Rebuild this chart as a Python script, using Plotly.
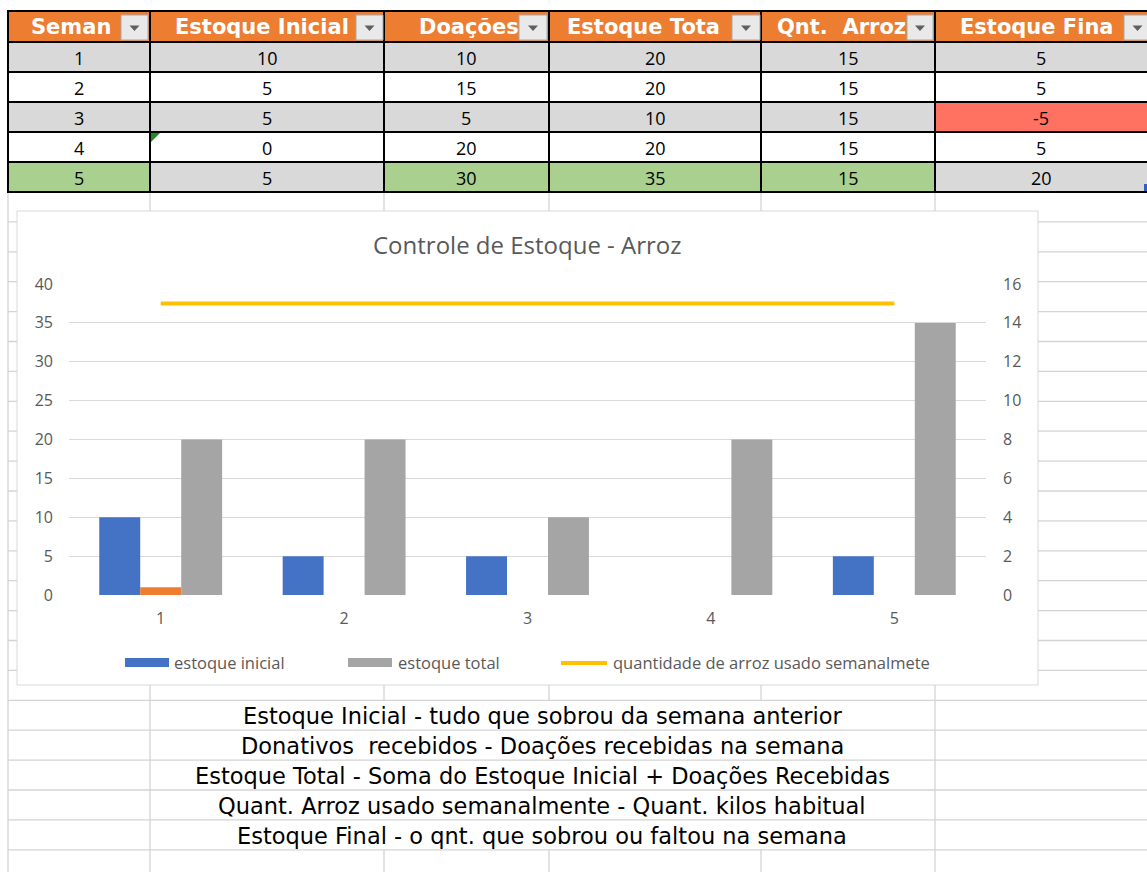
import plotly.graph_objects as go

W, H = 1147, 872

# ---------------- data ----------------
semanas = [1, 2, 3, 4, 5]
estoque_inicial = [10, 5, 5, 0, 5]
doacoes = [10, 15, 5, 20, 30]
estoque_total = [20, 20, 10, 20, 35]
qnt_arroz = [15, 15, 15, 15, 15]
estoque_final = [5, 5, -5, 5, 20]
serie_laranja = [1, None, None, None, None]

cabecalhos = ["Seman", "Estoque Inicial", "Doações", "Estoque Tota", "Qnt.\u00a0 Arroz", "Estoque Fina"]
legenda = ["estoque inicial", "estoque total", "quantidade de arroz usado semanalmete"]
titulo = "Controle de Estoque - Arroz"
notas = [
    "Estoque Inicial - tudo que sobrou da semana anterior",
    "Donativos\u00a0 recebidos - Doações recebidas na semana",
    "Estoque Total - Soma do Estoque Inicial + Doações Recebidas",
    "Quant. Arroz usado semanalmente - Quant. kilos habitual",
    "Estoque Final - o qnt. que sobrou ou faltou na semana",
]
ticks_esq = [0, 5, 10, 15, 20, 25, 30, 35, 40]
ticks_dir = [0, 2, 4, 6, 8, 10, 12, 14, 16]

# ---------------- helpers ----------------
def X(p):
    return p / W

def Y(p):
    return 1 - p / H

shapes = []
annots = []

def rect(x0, y0, x1, y1, fill, line=None, lw=0, layer="below"):
    d = dict(type="rect", xref="paper", yref="paper", x0=X(x0), x1=X(x1), y0=Y(y0), y1=Y(y1),
             fillcolor=fill, layer=layer, line=dict(width=lw, color=line or fill))
    shapes.append(d)

def hline(x0, x1, y, color, w, layer="below"):
    shapes.append(dict(type="line", xref="paper", yref="paper", x0=X(x0), x1=X(x1), y0=Y(y), y1=Y(y),
                       line=dict(color=color, width=w), layer=layer))

def vline(x, y0, y1, color, w, layer="below"):
    shapes.append(dict(type="line", xref="paper", yref="paper", x0=X(x), x1=X(x), y0=Y(y0), y1=Y(y1),
                       line=dict(color=color, width=w), layer=layer))

def text(x, y, s, size, color, family, anchor="center", bold=False):
    annots.append(dict(xref="paper", yref="paper", x=X(x), y=Y(y), text=("<b>%s</b>" % s) if bold else s,
                       showarrow=False, xanchor=anchor, yanchor="middle",
                       font=dict(size=size, color=color, family=family)))

# ---------------- spreadsheet grid ----------------
GRID = "#D4D4D4"
cols = [8, 150, 384, 549, 761, 935, 1147]
row_lines = [192 + 29.9 * k for k in range(1, 23)]
for yy in row_lines:
    hline(8, W, yy, GRID, 1.3)
vline(8, 192, H, GRID, 1.3)
vline(150, 192, H, GRID, 1.3)
vline(935, 192, H, GRID, 1.3)
for cx in [384, 549, 761]:
    vline(cx, 192, row_lines[16], GRID, 1.3)
    vline(cx, row_lines[21], H, GRID, 1.3)

# chart frame
rect(17, 211, 1038, 685, "white", "#D9D9D9", 1)

# ---------------- table ----------------
ORANGE = "#ED7D31"
GRAY = "#D9D9D9"
GREEN = "#A9D08E"
RED = "#FF7161"
row_top = [42, 72, 102, 132, 162, 192]
rect(8, 11, W, 42, ORANGE)
fills = [
    [GRAY] * 6,
    ["white"] * 6,
    [GRAY] * 5 + [RED],
    ["white"] * 6,
    [GREEN, GRAY, GREEN, GREEN, GREEN, GRAY],
]
valores = [semanas, estoque_inicial, doacoes, estoque_total, qnt_arroz, estoque_final]
for r in range(5):
    for c in range(6):
        rect(cols[c], row_top[r], cols[c + 1], row_top[r + 1], fills[r][c])
        cxm = (cols[c] + cols[c + 1]) / 2 if c < 5 else 1041
        text(cxm, (row_top[r] + row_top[r + 1]) / 2 + 1, str(valores[c][r]), 18, "black", "Open Sans")
for yy in [11] + row_top:
    hline(7, W, yy, "black", 2)
for cx in cols[:-1]:
    vline(cx, 11, 192, "black", 2)

# header texts and filter buttons
head_x = [29, 173, 417, 565, 775, 958]
for s, hx in zip(cabecalhos, head_x):
    text(hx, 27, s, 21, "white", "DejaVu Sans", anchor="left", bold=True)
botoes = [(121, 148), (356, 383), (519, 547), (732, 760), (907, 933), (1124, 1151)]
for b0, b1 in botoes:
    rect(b0, 15, b1, 40, "#E9E9E9", "#A3ABB5", 1, layer="above")
    cm = (b0 + b1) / 2
    shapes.append(dict(type="path", xref="paper", yref="paper", layer="above",
                       path="M %f %f L %f %f L %f %f Z" % (X(cm - 5), Y(25.5), X(cm + 5), Y(25.5), X(cm), Y(31)),
                       fillcolor="#5F5F5F", line=dict(width=0)))
# error indicator and table handle
shapes.append(dict(type="path", xref="paper", yref="paper", layer="above",
                   path="M %f %f L %f %f L %f %f Z" % (X(151), Y(133), X(160), Y(133), X(151), Y(142)),
                   fillcolor="#1E8C1E", line=dict(width=0)))
rect(1144, 184, 1147, 191, "#2F5FBF", layer="above")

# footer notes
foot_y = [716, 746, 776, 806, 836]
for s, fy in zip(notas, foot_y):
    text(542, fy, s, 22.5, "black", "DejaVu Sans")

# ---------------- chart ----------------
fig = go.Figure()
fig.add_trace(go.Bar(x=semanas, y=estoque_inicial, name=legenda[0], marker=dict(color="#4472C4", line=dict(width=0)), showlegend=False))
fig.add_trace(go.Bar(x=semanas, y=serie_laranja, name="", marker=dict(color="#ED7D31", line=dict(width=0)), showlegend=False))
fig.add_trace(go.Bar(x=semanas, y=estoque_total, name=legenda[1], marker=dict(color="#A5A5A5", line=dict(width=0)), showlegend=False))
fig.add_trace(go.Scatter(x=semanas, y=qnt_arroz, name=legenda[2], yaxis="y2", mode="lines",
                         line=dict(color="#FFC000", width=4), showlegend=False))

# custom legend
rect(125, 658, 169, 667, "#4472C4", layer="above")
rect(348, 658, 392, 667, "#A5A5A5", layer="above")
hline(561, 607, 663, "#FFC000", 4, layer="above")
text(172, 662, legenda[0], 16.5, "#595959", "Open Sans", anchor="left")
text(396, 662, legenda[1], 16.5, "#595959", "Open Sans", anchor="left")
text(611, 662, legenda[2], 16.5, "#595959", "Open Sans", anchor="left")

# chart title as annotation
text(527, 245, titulo, 24, "#595959", "Open Sans")

fig.update_layout(
    width=W, height=H, autosize=False,
    margin=dict(l=0, r=0, t=0, b=0, pad=0, autoexpand=False),
    paper_bgcolor="white", plot_bgcolor="rgba(0,0,0,0)",
    barmode="group", bargap=0.33, bargroupgap=0,
    showlegend=False,
    xaxis=dict(domain=[X(69), X(986)], range=[0.5, 5.5], tickvals=semanas, ticktext=[str(s) for s in semanas],
               showgrid=False, zeroline=False, showline=False, ticks="", automargin=False,
               tickfont=dict(size=16, color="#595959", family="Open Sans"), ticklabelstandoff=12, fixedrange=True),
    yaxis=dict(domain=[Y(595), Y(284)], range=[0, 40], tickvals=ticks_esq, showgrid=True, gridcolor="#D9D9D9",
               gridwidth=1.2, zeroline=False, showline=False, ticks="", automargin=False,
               tickfont=dict(size=16, color="#595959", family="Open Sans"), ticklabelstandoff=15, fixedrange=True),
    yaxis2=dict(overlaying="y", side="right", anchor="x", range=[0, 16], tickvals=ticks_dir, showgrid=False,
                zeroline=False, showline=False, ticks="", automargin=False,
                tickfont=dict(size=16, color="#595959", family="Open Sans"), ticklabelstandoff=16, fixedrange=True),
    shapes=shapes,
    annotations=annots,
)

post = ("document.documentElement.style.margin='0';document.documentElement.style.overflow='hidden';"
        "document.body.style.margin='0';document.body.style.padding='0';document.body.style.overflow='hidden';"
        "var gd=document.getElementById('{plot_id}');gd.style.position='fixed';gd.style.left='0px';gd.style.top='0px';")
fig.write_html("out.html", post_script=post, config={"displayModeBar": False})
